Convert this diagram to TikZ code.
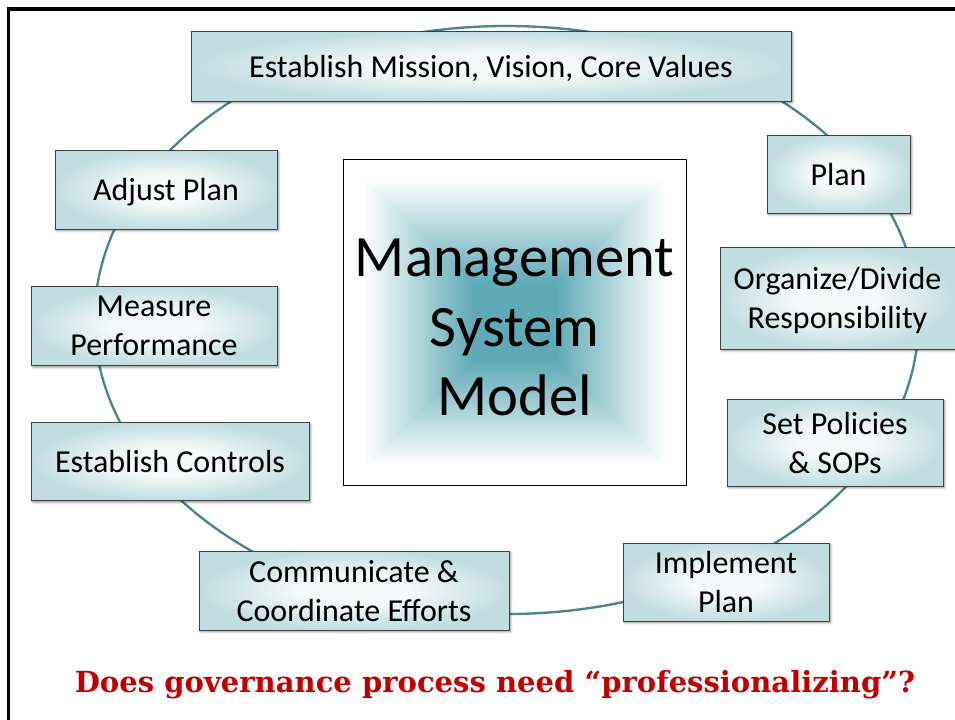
\documentclass[tikz,border=0pt]{standalone}
\usepackage{fontspec}
\setmainfont{Carlito}
\newfontfamily\askfont{DejaVu Serif}
\usepackage{xcolor}
\definecolor{ringteal}{RGB}{74,134,140}
\definecolor{tileedge}{RGB}{193,221,226}
\definecolor{tilemid}{RGB}{245,249,249}
\definecolor{framegray}{RGB}{64,64,64}
\definecolor{askred}{RGB}{192,0,0}
\usepackage{tikz}
\usetikzlibrary{shadows.blur}
\pgfdeclareradialshading{stagefade}{\pgfpoint{0bp}{0bp}}{color(0bp)=(tilemid); color(9bp)=(tilemid); color(25bp)=(tileedge); color(50bp)=(tileedge)}
% square fade: teal in the middle, white towards the frame
\pgfdeclarefunctionalshading{hubfade}{\pgfpoint{-50bp}{-50bp}}{\pgfpoint{50bp}{50bp}}{}{
  abs exch abs 2 copy lt {exch} if pop
  6 sub 16 div
  dup 0 lt {pop 0} if
  dup 1 gt {pop 1} if
  dup 0.627 mul 0.373 add
  exch dup 0.333 mul 0.667 add
  exch 0.286 mul 0.714 add
}

\begin{document}
\begin{tikzpicture}[
    x=0.03cm, y=-0.03cm,
    every node/.style={inner sep=0pt},
    stagebox/.style={
        draw=framegray,
        line width=0.8pt,
        shade, shading=stagefade,
        align=center,
        text depth=0pt,
        font=\fontsize{27.3}{33.3}\selectfont,
        blur shadow={shadow xshift=1.6pt, shadow yshift=-1.6pt, shadow blur radius=1.8pt, shadow opacity=40}
    }
]
\useasboundingbox (0,0) rectangle (955,719);

% Slide frame
\draw[line width=2.6pt] (8.5,740) -- (8.5,9) -- (975,9);

% Ring behind the stages
\coordinate (ringc) at (506.5,320);
\draw[ringteal, line width=2pt] (ringc) ellipse [x radius=12.36cm, y radius=8.82cm];

% Stages, clockwise from the top
\node[stagebox, minimum width=18cm, minimum height=2.1cm] (mission) at (491,66) {Establish Mission, Vision, Core Values};
\node[stagebox, minimum width=4.29cm, minimum height=2.34cm] (plan) at (838.5,174) {Plan};
\node[stagebox, minimum width=7.05cm, minimum height=3.06cm] (organize) at (837.5,298) {Organize/Divide\\Responsibility};
\node[stagebox, minimum width=6.48cm, minimum height=2.61cm] (policies) at (835,442.5) {Set Policies\\\& SOPs};
\node[stagebox, minimum width=6.18cm, minimum height=2.34cm] (implement) at (726,582) {Implement\\Plan};
\node[stagebox, minimum width=9.3cm, minimum height=2.37cm] (communicate) at (354,590.5) {Communicate \&\\Coordinate Efforts};
\node[stagebox, minimum width=8.34cm, minimum height=2.34cm] (controls) at (170,461.5) {Establish Controls};
\node[stagebox, minimum width=7.38cm, minimum height=2.37cm] (measure) at (154,326) {Measure\\Performance};
\node[stagebox, minimum width=6.66cm, minimum height=2.37cm] (adjust) at (166,189.5) {Adjust Plan};

% Hub
\node[
    draw=black,
    line width=0.6pt,
    shade, shading=hubfade,
    minimum width=10.29cm,
    minimum height=9.78cm,
    align=center,
    text depth=0pt,
    font=\fontsize{50}{59}\selectfont
] (hub) at (514.5,322) {\rule{0pt}{41pt}Management\\System\\Model};

% Question below
\node[font=\askfont\bfseries\fontsize{24.8}{30}\selectfont, text=askred, anchor=base] (ask) at (495,692) {Does governance process need “professionalizing”?};

\end{tikzpicture}
\end{document}
